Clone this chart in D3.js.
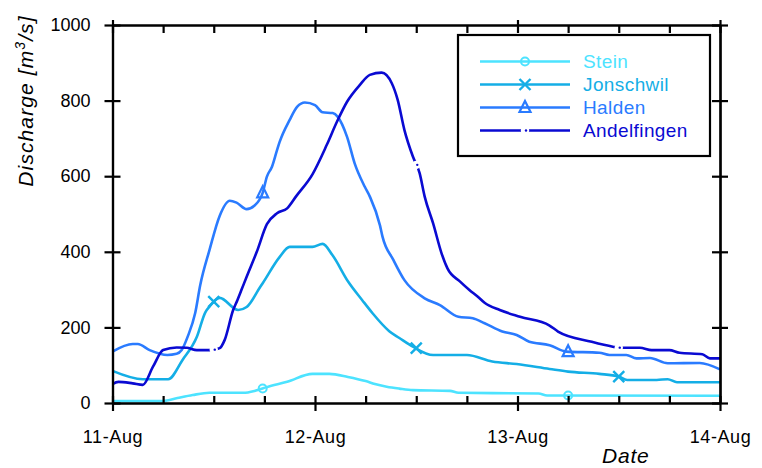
<!DOCTYPE html>
<html>
<head>
<meta charset="utf-8">
<script src="https://cdn.jsdelivr.net/npm/d3@7"></script>
<style>
  html, body { margin: 0; padding: 0; background: #fff; }
  svg { display: block; font-family: "Liberation Sans", Arial, Helvetica, sans-serif; }
</style>
</head>
<body>
<svg id="chart" width="762" height="468"></svg>
<script>
// ---------- data (hours after 11-Aug 00:00, discharge in m3/s) ----------
const seriesNames = ["Stein", "Jonschwil", "Halden", "Andelfingen"];
const seriesColors = ["#4de3ff", "#14aee6", "#2a7bff", "#0a0ad2"];

const steinHours = [0, 6, 7.7, 9.5, 11.5, 15.5, 17, 18.3, 20.7, 23.7, 25.7, 27.9, 30, 31.1, 32.5, 34, 35.6, 40, 41, 50.5, 51.5, 72];
const steinQ     = [5, 5, 13, 21, 27, 27, 33, 42, 56, 77, 77, 69, 58, 50, 43, 38, 34, 32, 27, 25, 20, 19];

const jonschwilHours = [0, 3.6, 6.6, 8.3, 10, 11, 11.5, 12, 12.7, 14.9, 15.9, 17.5, 17.8, 19.8, 21, 23.7, 24.9, 26.1, 27.9, 29.6, 30.8, 32.8, 34, 35.6, 38, 42, 45, 47.9, 51.8, 54, 57.7, 60, 61, 64.5, 65.8, 66.9, 72];
const jonschwilQ     = [85, 63, 63, 114, 175, 240, 255, 268, 278, 246, 254, 307, 317, 386, 413, 413, 421, 390, 322, 272, 238, 190, 172, 149, 127, 127, 110, 103, 90, 83, 77, 70, 61, 61, 63, 55, 55];

const haldenHours = [0, 2.4, 3, 4.4, 6.5, 7.6, 8.2, 8.9, 9.8, 10.4, 11.5, 12.7, 13.9, 14.7, 15.9, 16.8, 17.8, 18.3, 18.9, 19.5, 19.8, 21, 21.9, 22.8, 24, 24.9, 26.1, 26.7, 27.8, 28.7, 29.9, 30.5, 31.7, 32, 33.3, 34.6, 37, 38.8, 41, 42.7, 44.1, 46.2, 47.9, 49.4, 51.8, 53.8, 57.7, 58.9, 60.9, 62.1, 63.7, 65.8, 69.6, 72];
const haldenQ     = [136, 156, 156, 140, 127, 130, 140, 175, 238, 312, 405, 495, 535, 530, 513, 522, 556, 599, 625, 669, 690, 749, 784, 795, 788, 769, 767, 757, 704, 634, 572, 546, 470, 440, 378, 325, 277, 259, 228, 224, 211, 189, 180, 162, 153, 136, 133, 127, 127, 118, 119, 105, 106, 89];

const andelfingenHours = [0, 0.7, 2.4, 3.6, 4.8, 6, 7.6, 8.8, 10, 11.8, 12.7, 13.3, 14.3, 14.8, 15.3, 15.9, 17.1, 18.3, 19.5, 20.7, 21.8, 23.7, 25.4, 26.6, 27.8, 29.3, 30.5, 31.9, 33.1, 33.8, 34.6, 35.6, 36.4, 37, 38, 39, 39.7, 41.2, 42.3, 43.3, 44.1, 45.9, 48.3, 51.8, 52.8, 56.8, 59.3, 60.1, 62.5, 63.9, 66, 67.2, 69.9, 70.8, 72];
const andelfingenQ     = [50, 56, 52, 48, 96, 140, 147, 146, 140, 140, 145, 167, 246, 272, 300, 334, 400, 473, 502, 515, 548, 605, 683, 744, 797, 841, 868, 874, 846, 802, 722, 652, 608, 546, 475, 396, 356, 321, 299, 281, 265, 246, 228, 205, 189, 162, 149, 146, 146, 140, 140, 133, 129, 118, 118];

// marker positions (hours) along each series
const markerHours = [[17.8, 54], [12, 36, 60], [17.8, 54], [12, 36, 60]];
const markerTypes = ["circle", "cross", "triangle", "gap"];

const yTicks = [0, 200, 400, 600, 800, 1000];
const startDate = new Date(2005, 7, 11);
const endDate = new Date(2005, 7, 14);

// ---------- build ----------
const allHours = [steinHours, jonschwilHours, haldenHours, andelfingenHours];
const allQ = [steinQ, jonschwilQ, haldenQ, andelfingenQ];
const toDate = h => new Date(startDate.getTime() + h * 3600e3);
const series = seriesNames.map((name, i) => ({
  name, color: seriesColors[i], type: markerTypes[i],
  values: allHours[i].map((h, j) => ({ t: toDate(h), h, q: allQ[i][j] })),
  markers: markerHours[i]
}));

const svg = d3.select("#chart");
const L = 112.5, R = 720, T = 25, B = 403;
const x = d3.scaleTime().domain([startDate, endDate]).range([L, R]);
const y = d3.scaleLinear().domain([0, 1000]).range([B, T]);

const dayTicks = d3.timeDay.range(startDate, d3.timeDay.offset(endDate, 1));
const sixHourTicks = d3.timeHour.every(6).range(startDate, d3.timeHour.offset(endDate, 1));
const fmt = d3.timeFormat("%d-%b");

// lines
const line = d3.line().x(d => x(d.t)).y(d => y(d.q)).curve(d3.curveMonotoneX);
const gPlot = svg.append("g");
series.forEach(s => {
  gPlot.append("path").datum(s.values).attr("d", line)
    .attr("fill", "none").attr("stroke", s.color).attr("stroke-width", 2.6)
    .attr("stroke-linejoin", "round");
});

function interp(values, h) {
  const i = d3.bisector(d => d.h).left(values, h);
  if (i <= 0) return values[0].q;
  if (i >= values.length) return values[values.length - 1].q;
  const a = values[i - 1], b = values[i];
  return a.q + (b.q - a.q) * (h - a.h) / (b.h - a.h);
}

function drawMarker(g, type, cx, cy, color) {
  if (type === "circle") {
    g.append("circle").attr("cx", cx).attr("cy", cy).attr("r", 4)
      .attr("fill", "none").attr("stroke", color).attr("stroke-width", 2);
  } else if (type === "cross") {
    const s = 5.5;
    g.append("path").attr("d", `M${cx - s},${cy - s}L${cx + s},${cy + s}M${cx - s},${cy + s}L${cx + s},${cy - s}`)
      .attr("stroke", color).attr("stroke-width", 2.4).attr("fill", "none");
  } else if (type === "triangle") {
    const s = 5.5;
    g.append("path").attr("d", `M${cx},${cy - s - 1}L${cx + s},${cy + s - 1}L${cx - s},${cy + s - 1}Z`)
      .attr("stroke", color).attr("stroke-width", 2.2).attr("fill", "none");
  } else if (type === "gap") {
    g.append("circle").attr("cx", cx).attr("cy", cy).attr("r", 4.2).attr("fill", "#fff");
    g.append("circle").attr("cx", cx + 1).attr("cy", cy).attr("r", 1.2).attr("fill", color);
  }
}

series.forEach(s => {
  s.markers.forEach(h => {
    drawMarker(gPlot, s.type, x(toDate(h)), y(interp(s.values, h)), s.color);
  });
});

// axes
const axisStyle = g => {
  g.selectAll("path.domain").attr("stroke", "#000").attr("stroke-width", 2.2);
  g.selectAll(".tick line").attr("stroke", "#000").attr("stroke-width", 2.2);
  g.selectAll("text").attr("font-size", 18).attr("fill", "#000")
    .attr("font-family", '"Liberation Sans", Arial, sans-serif');
};

// left
svg.append("g").attr("transform", `translate(${L},0)`)
  .call(d3.axisLeft(y).tickValues(yTicks).tickSize(8).tickSizeOuter(0).tickPadding(14).tickFormat(d3.format("d")))
  .call(axisStyle);
svg.append("g").attr("transform", `translate(${L},0)`)
  .call(d3.axisRight(y).tickValues(yTicks).tickSize(8).tickSizeOuter(0).tickFormat(""))
  .call(axisStyle);
// right
svg.append("g").attr("transform", `translate(${R},0)`)
  .call(d3.axisLeft(y).tickValues(yTicks).tickSize(8).tickSizeOuter(0).tickFormat(""))
  .call(axisStyle);
svg.append("g").attr("transform", `translate(${R},0)`)
  .call(d3.axisRight(y).tickValues(yTicks).tickSize(8).tickSizeOuter(0).tickFormat(""))
  .call(axisStyle);
// bottom
svg.append("g").attr("transform", `translate(0,${B})`)
  .call(d3.axisBottom(x).tickValues(dayTicks).tickSize(8).tickSizeOuter(0).tickPadding(19).tickFormat(fmt))
  .call(axisStyle)
  .selectAll("text").attr("letter-spacing", 0.6);
svg.append("g").attr("transform", `translate(0,${B})`)
  .call(d3.axisTop(x).tickValues(sixHourTicks).tickSize(7).tickSizeOuter(0).tickFormat(""))
  .call(axisStyle);
// top
svg.append("g").attr("transform", `translate(0,${T})`)
  .call(d3.axisBottom(x).tickValues(sixHourTicks).tickSize(8).tickSizeOuter(0).tickFormat(""))
  .call(axisStyle);
svg.append("g").attr("transform", `translate(0,${T})`)
  .call(d3.axisTop(x).tickValues(dayTicks).tickSize(5).tickSizeOuter(0).tickFormat(""))
  .call(axisStyle);

// axis titles
const yTitle = svg.append("text")
  .attr("transform", "translate(33,101) rotate(-90)")
  .attr("text-anchor", "middle")
  .attr("font-size", 21).attr("font-style", "italic").attr("letter-spacing", 1.1);
yTitle.append("tspan").text("Discharge [m");
yTitle.append("tspan").text("3").attr("font-size", 14).attr("baseline-shift", "super");
yTitle.append("tspan").text("/s]");

svg.append("text").attr("x", 602).attr("y", 463)
  .attr("font-size", 21).attr("font-style", "italic").attr("letter-spacing", 0.8)
  .text("Date");

// legend
const lg = svg.append("g");
lg.append("rect").attr("x", 458).attr("y", 35).attr("width", 252).attr("height", 121)
  .attr("fill", "#fff").attr("stroke", "#000").attr("stroke-width", 2.2);
series.forEach((s, i) => {
  const ly = 61.5 + i * 23;
  lg.append("line").attr("x1", 480).attr("x2", 570).attr("y1", ly).attr("y2", ly)
    .attr("stroke", s.color).attr("stroke-width", 2.6);
  drawMarker(lg, s.type, 525, ly, s.color);
  lg.append("text").attr("x", 583).attr("y", ly).attr("dy", "0.36em")
    .attr("font-size", 19).attr("letter-spacing", 0.4).attr("fill", s.color).text(s.name);
});
</script>
</body>
</html>
